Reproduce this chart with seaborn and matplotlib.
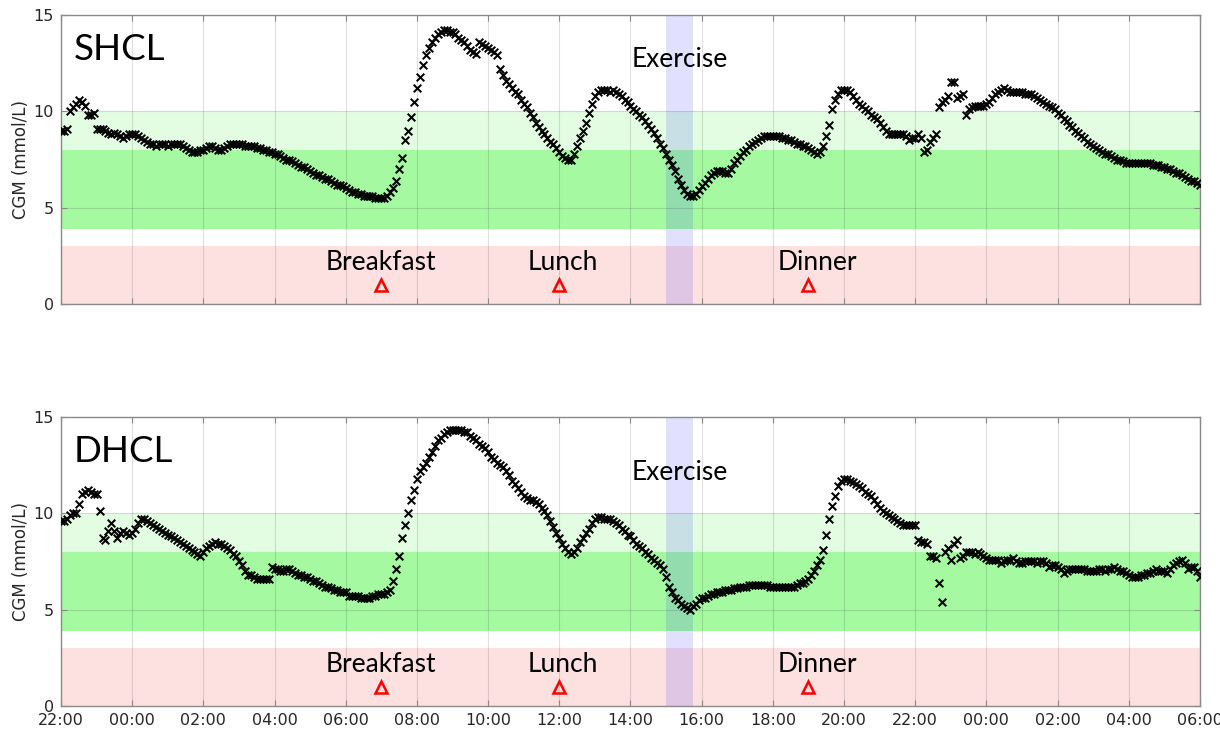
import numpy as np
import pandas as pd
import matplotlib
matplotlib.use("Agg")
import matplotlib.pyplot as plt
import seaborn as sns

# CGM readings (mmol/L), one every 5 minutes from 22:00 (day 0) to 06:00 (day 2).
# Each row holds one hour of readings.
shcl_cgm = [
    9.0, 9.0, 9.1, 10.0, 10.2, 10.4, 10.6, 10.5, 10.3, 9.8, 9.8, 9.9,      # 22:00
    9.1, 9.1, 9.1, 9.0, 8.9, 8.8, 8.9, 8.8, 8.7, 8.6, 8.7, 8.8,            # 23:00
    8.8, 8.8, 8.7, 8.6, 8.5, 8.4, 8.3, 8.3, 8.2, 8.3, 8.3, 8.3,            # 00:00
    8.2, 8.3, 8.3, 8.3, 8.3, 8.2, 8.1, 8.0, 7.9, 7.9, 7.9, 8.0,            # 01:00
    8.0, 8.1, 8.2, 8.2, 8.1, 8.0, 8.0, 8.1, 8.2, 8.3, 8.3, 8.3,            # 02:00
    8.3, 8.3, 8.2, 8.2, 8.2, 8.2, 8.1, 8.1, 8.0, 8.0, 7.9, 7.9,            # 03:00
    7.8, 7.8, 7.7, 7.6, 7.5, 7.5, 7.4, 7.3, 7.2, 7.1, 7.1, 7.0,            # 04:00
    6.9, 6.8, 6.7, 6.7, 6.6, 6.5, 6.5, 6.4, 6.3, 6.2, 6.2, 6.1,            # 05:00
    6.0, 5.9, 5.8, 5.8, 5.7, 5.7, 5.6, 5.6, 5.6, 5.6, 5.5, 5.5,            # 06:00
    5.5, 5.5, 5.6, 5.8, 6.0, 6.4, 7.0, 7.6, 8.5, 9.0, 9.7, 10.5,           # 07:00
    11.2, 11.8, 12.4, 12.9, 13.3, 13.6, 13.8, 14.0, 14.1, 14.2, 14.2, 14.1,  # 08:00
    14.1, 14.0, 13.8, 13.7, 13.6, 13.4, 13.2, 13.1, 13.0, 13.6, 13.5, 13.4,  # 09:00
    13.3, 13.2, 13.1, 12.9, 12.2, 11.9, 11.6, 11.4, 11.2, 11.0, 10.9, 10.6,  # 10:00
    10.4, 10.2, 9.9, 9.7, 9.4, 9.2, 9.0, 8.8, 8.6, 8.4, 8.3, 8.1,          # 11:00
    7.9, 7.7, 7.6, 7.5, 7.5, 7.8, 8.2, 8.6, 9.0, 9.4, 9.9, 10.4,           # 12:00
    10.8, 11.0, 11.1, 11.1, 11.1, 11.0, 11.1, 11.0, 10.9, 10.8, 10.6, 10.5,  # 13:00
    10.3, 10.1, 10.0, 9.8, 9.7, 9.5, 9.3, 9.1, 8.9, 8.6, 8.3, 8.1,         # 14:00
    7.8, 7.5, 7.2, 6.9, 6.5, 6.2, 5.9, 5.7, 5.6, 5.6, 5.7, 5.9,            # 15:00
    6.1, 6.3, 6.5, 6.7, 6.8, 6.9, 6.9, 6.9, 6.8, 6.8, 7.0, 7.3,            # 16:00
    7.5, 7.7, 7.9, 8.0, 8.2, 8.3, 8.4, 8.5, 8.6, 8.7, 8.7, 8.7,            # 17:00
    8.7, 8.7, 8.7, 8.6, 8.6, 8.5, 8.5, 8.4, 8.3, 8.3, 8.2, 8.2,            # 18:00
    8.1, 8.0, 7.9, 7.8, 7.9, 8.2, 8.7, 9.3, 10.1, 10.6, 10.9, 11.1,        # 19:00
    11.1, 11.1, 11.0, 10.8, 10.6, 10.4, 10.3, 10.1, 10.0, 9.8, 9.7, 9.6,   # 20:00
    9.4, 9.2, 9.0, 8.8, 8.8, 8.8, 8.8, 8.8, 8.8, 8.7, 8.5, 8.6,            # 21:00
    8.6, 8.8, 8.6, 7.9, 8.0, 8.4, 8.6, 8.8, 10.2, 10.5, 10.6, 10.8,        # 22:00
    11.5, 11.5, 10.7, 10.8, 10.9, 9.8, 10.1, 10.2, 10.3, 10.3, 10.3, 10.3,  # 23:00
    10.4, 10.5, 10.7, 10.9, 11.0, 11.1, 11.2, 11.1, 11.0, 11.0, 11.0, 11.0,  # 00:00
    11.0, 10.9, 10.9, 10.9, 10.8, 10.7, 10.6, 10.5, 10.4, 10.3, 10.2, 10.1,  # 01:00
    9.9, 9.8, 9.6, 9.5, 9.3, 9.2, 9.0, 8.9, 8.7, 8.6, 8.4, 8.3,            # 02:00
    8.2, 8.1, 8.0, 7.9, 7.8, 7.8, 7.7, 7.6, 7.5, 7.5, 7.4, 7.3,            # 03:00
    7.3, 7.3, 7.3, 7.3, 7.3, 7.3, 7.3, 7.3, 7.2, 7.2, 7.2, 7.1,            # 04:00
    7.1, 7.0, 7.0, 6.9, 6.8, 6.8, 6.7, 6.6, 6.5, 6.4, 6.4, 6.3,            # 05:00
    6.2,                                                                   # 06:00
]

dhcl_cgm = [
    9.6, 9.6, 9.7, 9.9, 10.0, 10.0, 10.5, 11.0, 11.1, 11.2, 11.1, 11.0,    # 22:00
    11.0, 10.1, 8.7, 8.6, 9.1, 9.5, 9.1, 8.7, 9.0, 9.1, 9.0, 8.9,          # 23:00
    9.0, 9.2, 9.5, 9.7, 9.7, 9.6, 9.5, 9.4, 9.3, 9.2, 9.1, 9.0,            # 00:00
    8.9, 8.8, 8.7, 8.6, 8.5, 8.4, 8.3, 8.2, 8.1, 8.0, 7.9, 7.8,            # 01:00
    8.0, 8.2, 8.3, 8.4, 8.5, 8.4, 8.4, 8.3, 8.2, 8.1, 7.9, 7.8,            # 02:00
    7.5, 7.3, 7.0, 6.8, 6.8, 6.7, 6.6, 6.6, 6.6, 6.6, 6.6, 7.2,            # 03:00
    7.1, 7.1, 7.0, 7.0, 7.1, 7.1, 7.0, 6.9, 6.8, 6.8, 6.7, 6.7,            # 04:00
    6.6, 6.5, 6.5, 6.4, 6.3, 6.2, 6.2, 6.1, 6.0, 6.0, 5.9, 5.9,            # 05:00
    5.9, 5.7, 5.7, 5.7, 5.7, 5.6, 5.6, 5.6, 5.6, 5.7, 5.7, 5.8,            # 06:00
    5.8, 5.8, 5.9, 6.0, 6.5, 7.1, 7.8, 8.7, 9.4, 10.0, 10.7, 11.2,         # 07:00
    11.8, 12.2, 12.4, 12.6, 12.9, 13.2, 13.5, 13.8, 13.9, 14.1, 14.2, 14.3,  # 08:00
    14.3, 14.3, 14.3, 14.3, 14.2, 14.2, 14.0, 13.9, 13.8, 13.6, 13.5, 13.4,  # 09:00
    13.2, 12.9, 12.8, 12.6, 12.5, 12.4, 12.2, 12.0, 11.7, 11.5, 11.3, 11.1,  # 10:00
    10.9, 10.8, 10.7, 10.7, 10.6, 10.5, 10.3, 10.1, 9.9, 9.6, 9.3, 9.0,    # 11:00
    8.7, 8.4, 8.2, 8.0, 7.9, 8.0, 8.2, 8.5, 8.7, 9.0, 9.2, 9.5,            # 12:00
    9.7, 9.8, 9.8, 9.7, 9.7, 9.7, 9.6, 9.5, 9.4, 9.2, 9.1, 8.9,            # 13:00
    8.8, 8.6, 8.4, 8.3, 8.2, 8.0, 7.9, 7.7, 7.6, 7.4, 7.3, 7.1,            # 14:00
    6.7, 6.2, 5.9, 5.6, 5.5, 5.3, 5.2, 5.1, 5.0, 5.2, 5.3, 5.5,            # 15:00
    5.6, 5.6, 5.7, 5.8, 5.8, 5.9, 5.9, 5.9, 6.0, 6.0, 6.0, 6.1,            # 16:00
    6.1, 6.2, 6.2, 6.2, 6.3, 6.3, 6.3, 6.3, 6.3, 6.3, 6.3, 6.2,            # 17:00
    6.2, 6.2, 6.2, 6.2, 6.2, 6.2, 6.2, 6.2, 6.3, 6.4, 6.4, 6.5,            # 18:00
    6.6, 6.8, 7.0, 7.3, 7.6, 8.1, 8.9, 9.7, 10.4, 10.9, 11.4, 11.7,        # 19:00
    11.8, 11.8, 11.7, 11.6, 11.5, 11.4, 11.3, 11.1, 11.0, 10.9, 10.7, 10.5,  # 20:00
    10.3, 10.1, 10.0, 9.9, 9.8, 9.7, 9.6, 9.5, 9.4, 9.4, 9.4, 9.4,         # 21:00
    9.4, 8.6, 8.5, 8.5, 8.4, 7.8, 7.8, 7.7, 6.4, 5.4, 8.0, 8.2,            # 22:00
    7.6, 8.4, 8.6, 7.7, 7.8, 8.0, 8.0, 8.0, 7.9, 8.0, 7.9, 7.8,            # 23:00
    7.7, 7.6, 7.6, 7.6, 7.6, 7.4, 7.5, 7.6, 7.6, 7.7, 7.5, 7.4,            # 00:00
    7.4, 7.5, 7.5, 7.5, 7.5, 7.4, 7.5, 7.5, 7.4, 7.2, 7.3, 7.3,            # 01:00
    7.2, 7.1, 6.9, 7.0, 7.1, 7.1, 7.1, 7.1, 7.1, 7.1, 7.0, 7.0,            # 02:00
    7.0, 7.0, 7.1, 7.1, 7.0, 7.1, 7.1, 7.2, 7.1, 7.0, 7.0, 6.9,            # 03:00
    6.8, 6.7, 6.7, 6.7, 6.8, 6.8, 6.9, 6.9, 7.0, 7.1, 7.0, 7.0,            # 04:00
    7.0, 6.9, 7.1, 7.3, 7.4, 7.5, 7.6, 7.4, 7.1, 7.2, 7.2, 7.0,            # 05:00
    6.7,                                                                   # 06:00
]

panel_names = ["SHCL", "DHCL"]
x_tick_labels = ["22:00", "00:00", "02:00", "04:00", "06:00", "08:00", "10:00",
                 "12:00", "14:00", "16:00", "18:00", "20:00", "22:00", "00:00",
                 "02:00", "04:00", "06:00"]
y_ticks = [0, 5, 10, 15]

meal_names = ["Breakfast", "Lunch", "Dinner"]
meal_times = ["07:00", "12:00", "19:00"]
exercise_window = ["15:00", "15:45"]

# glucose ranges: (low, high, colour)
range_bands = [
    (0.0, 3.0, "#fde0e0"),
    (3.9, 8.0, "#a5f9a1"),
    (8.0, 10.0, "#e2fde2"),
]

SAMPLE_MIN = 5
START_HOUR = 22


def clock_to_hours(clock):
    hh, mm = (int(p) for p in clock.split(":"))
    return (hh + mm / 60 - START_HOUR) % 24


sns.set_theme(style="ticks")
plt.rcParams["font.family"] = ["DejaVu Sans"]
label_font = ["Lato", "DejaVu Sans"]
axis_grey = "#262626"

fig = plt.figure(figsize=(12.2, 7.31), dpi=100)
ax_top = fig.add_axes([0.050, 0.5841, 0.9336, 0.3954])
ax_bot = fig.add_axes([0.050, 0.0342, 0.9336, 0.3954])

series = [shcl_cgm, dhcl_cgm]
name_y = [13.2, 13.2]
exercise_y = [12.7, 12.1]
meal_label_shift = [0.0, 0.1, 0.25]   # hours, to keep labels clear of the grid

for i, (ax, values, name) in enumerate(zip([ax_top, ax_bot], series, panel_names)):
    df = pd.DataFrame({"cgm": values})
    df["hours"] = np.arange(len(df)) * SAMPLE_MIN / 60

    for lo, hi, col in range_bands:
        ax.axhspan(lo, hi, color=col, lw=0, zorder=0.2)

    ex0, ex1 = (clock_to_hours(t) for t in exercise_window)
    ax.axvspan(ex0, ex1, color="#1a1aff", alpha=0.13, lw=0, zorder=0.7)

    sns.scatterplot(data=df, x="hours", y="cgm", marker="x", color="black",
                    s=30, linewidth=1.45, ax=ax, zorder=3, legend=False)

    meal_h = [clock_to_hours(t) for t in meal_times]
    ax.plot(meal_h, [1.0] * len(meal_h), linestyle="none", marker="^",
            markersize=8.5, markerfacecolor="none", markeredgecolor="red",
            markeredgewidth=1.8, zorder=4)
    for label, mh, dx in zip(meal_names, meal_h, meal_label_shift):
        ax.text(mh + dx, 2.15, label, ha="center", va="center", fontsize=19,
                family=label_font, color="black", zorder=5)

    ax.text((ex0 + ex1) / 2, exercise_y[i], "Exercise", ha="center", va="center",
            fontsize=19, family=label_font, color="black", zorder=5)
    ax.text(0.35, name_y[i], name, ha="left", va="center", fontsize=26.5,
            family=label_font, color="black", zorder=5)

    ax.set_xlim(0, 32)
    ax.set_ylim(0, 15)
    ax.set_xticks(np.arange(0, 33, 2))
    ax.set_yticks(y_ticks)
    ax.set_yticklabels([str(v) for v in y_ticks])
    if i == 1:
        ax.set_xticklabels(x_tick_labels)
    else:
        ax.set_xticklabels([])
    ax.set_xlabel("")
    ax.set_ylabel("CGM (mmol/L)", fontsize=12, color=axis_grey, labelpad=3)

    ax.set_axisbelow(True)
    ax.grid(True, axis="both", color="black", alpha=0.12, linewidth=0.8)
    for sp in ax.spines.values():
        sp.set_visible(True)
        sp.set_color("#8a8a8a")
        sp.set_linewidth(1.0)
    ax.tick_params(axis="both", direction="in", length=4, width=0.8,
                   colors="#8a8a8a", labelcolor=axis_grey, labelsize=11.5,
                   top=True, right=True, pad=5)
    ax.set_facecolor("white")

fig.savefig("out.png", dpi=100)
